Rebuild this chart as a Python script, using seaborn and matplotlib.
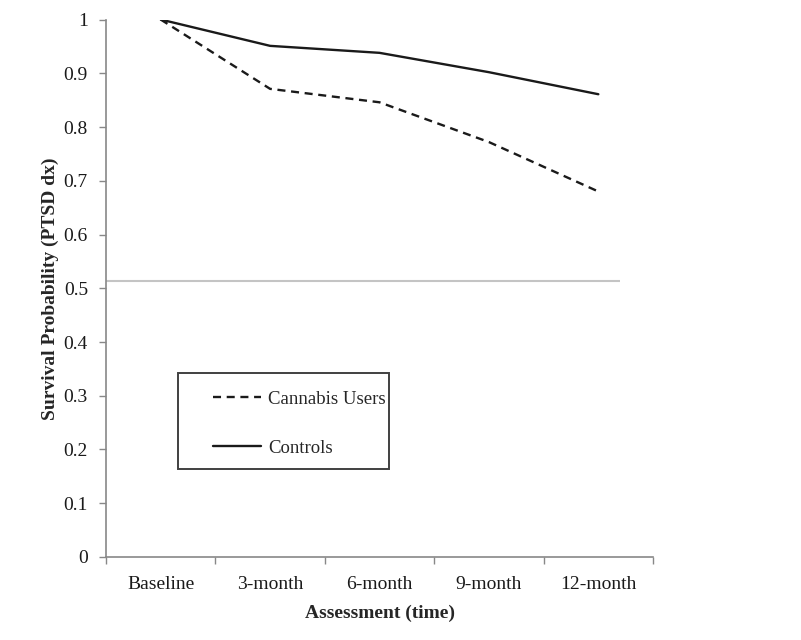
import matplotlib
matplotlib.use("Agg")
import matplotlib.pyplot as plt
from matplotlib.patches import Rectangle
import seaborn as sns
import pandas as pd

categories = ["Baseline", "3-month", "6-month", "9-month", "12-month"]
cannabis_users = [1.0, 0.871, 0.846, 0.772, 0.680]
controls = [1.0, 0.951, 0.938, 0.902, 0.861]
reference_level = 0.514
y_ticks = [0, 0.1, 0.2, 0.3, 0.4, 0.5, 0.6, 0.7, 0.8, 0.9, 1]
y_tick_labels = ["0", "0.1", "0.2", "0.3", "0.4", "0.5", "0.6", "0.7", "0.8", "0.9", "1"]

df = pd.DataFrame({
    "Assessment": list(range(len(categories))) * 2,
    "Survival": cannabis_users + controls,
    "Group": ["Cannabis Users"] * len(categories) + ["Controls"] * len(categories),
})

sns.set_style("ticks")
plt.rcParams["font.family"] = ["Liberation Serif", "DejaVu Serif"]

fig = plt.figure(figsize=(8.01, 6.4), dpi=100)
ax = fig.add_axes([0.1323, 0.1297, 0.6830, 0.8398])

sns.lineplot(data=df, x="Assessment", y="Survival", hue="Group", style="Group",
             palette={"Cannabis Users": "#1a1a1a", "Controls": "#1a1a1a"},
             dashes={"Cannabis Users": (3.4, 2.4), "Controls": ""},
             linewidth=1.7, ax=ax, legend=True)

ax.hlines(reference_level, -0.5, 4.2, color="#c4c4c4", linewidth=1.5, zorder=1)

ax.set_xlim(-0.5, 4.5)
ax.set_ylim(0, 1)
ax.set_xticks(range(len(categories)))
ax.set_xticklabels(categories, fontsize=14, color="#1a1a1a")
ax.set_xticks([i - 0.5 for i in range(len(categories) + 1)], minor=True)
ax.tick_params(axis="x", which="major", length=0, pad=14)
ax.tick_params(axis="x", which="minor", length=5, color="#888888", width=1)
ax.set_yticks(y_ticks)
ax.set_yticklabels(y_tick_labels, fontsize=14, color="#1a1a1a")
ax.tick_params(axis="y", length=5, color="#888888", width=1, pad=8)

for s in ["top", "right"]:
    ax.spines[s].set_visible(False)
for s in ["left", "bottom"]:
    ax.spines[s].set_color("#888888")
    ax.spines[s].set_linewidth(1.2)

ax.set_xlabel("Assessment (time)", fontsize=14, fontweight="bold", labelpad=8)
ax.set_ylabel("Survival Probability (PTSD dx)", fontsize=14, fontweight="bold", labelpad=3)

handles, labels = ax.get_legend_handles_labels()
leg = ax.legend(handles, labels, loc="upper left", bbox_to_anchor=(0.195, 0.310),
                frameon=False, fontsize=13.5, handlelength=2.6, handletextpad=0.35,
                labelspacing=1.7, borderaxespad=0, borderpad=0)
ax.add_patch(Rectangle((0.132, 0.164), 0.385, 0.178, transform=ax.transAxes,
                       fill=False, edgecolor="#404040", linewidth=1.4, zorder=5))

fig.savefig("out.png", dpi=100)
